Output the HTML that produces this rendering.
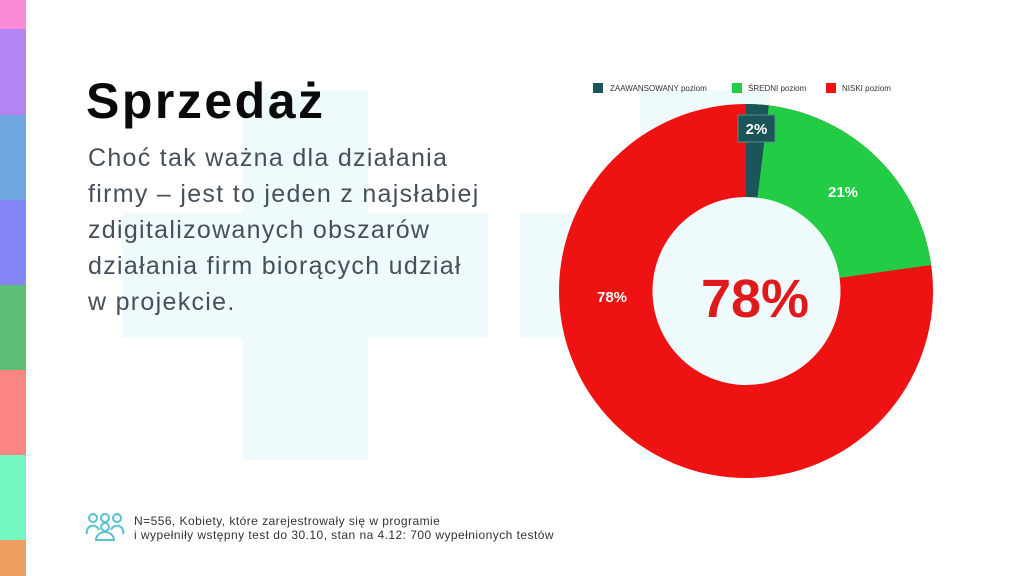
<!DOCTYPE html>
<html><head><meta charset="utf-8"><style>
html,body{margin:0;padding:0}
body{width:1024px;height:576px;position:relative;overflow:hidden;background:#fff;font-family:"Liberation Sans","DejaVu Sans",sans-serif}
.s{position:absolute;left:0;width:26px}
.bg{position:absolute;background:#eefafc}
.t{position:absolute}
</style></head><body>
<div class="s" style="top:0;height:29px;background:#f98ad8"></div>
<div class="s" style="top:29px;height:86px;background:#b484f3"></div>
<div class="s" style="top:115px;height:85px;background:#6fa7e0"></div>
<div class="s" style="top:200px;height:85px;background:#8486f8"></div>
<div class="s" style="top:285px;height:85px;background:#5cbf75"></div>
<div class="s" style="top:370px;height:85px;background:#fb8580"></div>
<div class="s" style="top:455px;height:85px;background:#74f7c3"></div>
<div class="s" style="top:540px;height:36px;background:#eea062"></div>

<div class="bg" style="left:243px;top:90px;width:125px;height:370px"></div>
<div class="bg" style="left:122px;top:213px;width:366px;height:125px"></div>
<div class="bg" style="left:640px;top:90px;width:130px;height:370px"></div>
<div class="bg" style="left:520px;top:213px;width:380px;height:125px"></div>

<div class="t" style="left:86px;top:72px;font-size:50px;font-weight:bold;color:#0a0a0a;letter-spacing:2.5px">Sprzedaż</div>
<div class="t" style="left:88px;top:140px;font-size:25px;line-height:36px;color:#46505a;width:460px;letter-spacing:1.3px;white-space:nowrap">Choć tak ważna dla działania<br>firmy – jest to jeden z najsłabiej<br>zdigitalizowanych obszarów<br>działania firm biorących udział<br>w projekcie.</div>

<svg class="t" style="left:0;top:0" width="1024" height="576">
<g font-size="8" fill="#333">
<rect x="593" y="83" width="10" height="10" fill="#1b5559"/><text x="610" y="91">ZAAWANSOWANY poziom</text>
<rect x="732" y="83" width="10" height="10" fill="#22cc44"/><text x="748" y="91">ŚREDNI poziom</text>
<rect x="826" y="83" width="10" height="10" fill="#ee1212"/><text x="842" y="91">NISKI poziom</text>
</g>
<circle cx="746" cy="291" r="187" fill="#ee1212"/>
<path d="M746 291 L746 104 A187 187 0 0 1 931.3 265.0 Z" fill="#22cc44"/>
<path d="M746 291 L746 104 A187 187 0 0 1 768.8 105.4 Z" fill="#1b5559"/>
<circle cx="746.5" cy="291" r="94" fill="#eefafc"/>
<rect x="738" y="115" width="37" height="27" fill="#1b5559" stroke="#5a8a8c" stroke-width="1"/>
<g font-weight="bold" fill="#fff" font-size="15" text-anchor="middle">
<text x="756.5" y="134">2%</text>
<text x="843" y="197">21%</text>
<text x="612" y="302">78%</text>
</g>
<text x="755" y="317" font-size="54" font-weight="bold" fill="#e01a1a" text-anchor="middle">78%</text>
<g fill="none" stroke="#5bc0d0" stroke-width="2">
<circle cx="93" cy="518" r="4"/><circle cx="105" cy="518" r="4"/><circle cx="117" cy="518" r="4"/>
<path d="M87 534 a6 6 0 0 1 12 -4 M111 530 a6 6 0 0 1 12 4 M96 540 a9 8 0 0 1 18 0 Z"/>
<circle cx="105" cy="527" r="4"/>
</g>
<g font-size="12" fill="#333" letter-spacing="0.45">
<text x="134" y="525">N=556, Kobiety, które zarejestrowały się w programie</text>
<text x="134" y="539">i wypełniły wstępny test do 30.10, stan na 4.12: 700 wypełnionych testów</text>
</g>
</svg>
</body></html>
